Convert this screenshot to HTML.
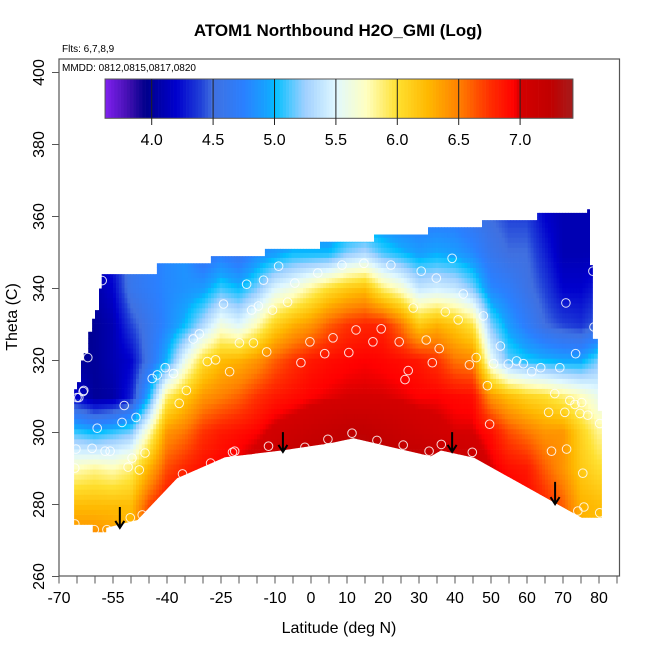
<!DOCTYPE html>
<html><head><meta charset="utf-8"><style>
html,body{margin:0;padding:0;background:#fff;}
svg{display:block;font-family:"Liberation Sans",Arial,sans-serif;}
</style></head><body>
<svg id="chart" width="650" height="650" viewBox="0 0 650 650" xmlns="http://www.w3.org/2000/svg">
<rect width="650" height="650" fill="#fff"/>
<text x="338" y="36" text-anchor="middle" font-size="17" font-weight="bold">ATOM1 Northbound H2O_GMI (Log)</text>
<text x="62" y="52" font-size="10">Flts: 6,7,8,9</text>
<text x="62" y="71" font-size="10">MMDD: 0812,0815,0817,0820</text>
<defs><clipPath id="regionClip"><polygon id="regionPoly" points=""/></clipPath></defs>
<g id="heat" clip-path="url(#regionClip)"></g>
<g id="points"></g>
<g id="arrows"></g>
<g id="cbar"></g>
<rect x="59" y="59" width="560.5" height="517" fill="none" stroke="#555" stroke-width="1.2"/>
<g id="axes"></g>
<text x="339" y="633" text-anchor="middle" font-size="16">Latitude (deg N)</text>
<text x="0" y="0" transform="translate(17,317) rotate(-90)" text-anchor="middle" font-size="16">Theta (C)</text>
</svg>
<script>
// ---- data ----
const gridLats = [-70,-65,-60,-55,-50,-45,-40,-35,-30,-25,-20,-15,-10,-5,0,5,10,15,20,25,30,35,40,45,50,55,60,65,70,75,80];
const gridThetas = [270,280,290,300,310,320,330,340,350,360];
const gridValues = [
[6.48,6.22,5.76,5.1,4.3,3.8,3.7,3.7,3.7,3.7],
[6.48,6.22,5.76,5.1,4.2,4.0,3.9,3.8,3.8,3.8],
[6.48,6.22,5.83,5.0,4.0,4.0,4.0,4.05,4.1,4.1],
[6.41,6.22,5.76,5.1,4.05,4.1,4.1,4.2,4.3,4.3],
[6.28,6.22,5.89,5.2,4.3,4.2,4.4,4.6,4.6,4.6],
[6.8,6.67,6.28,5.76,5.0,4.6,4.6,4.7,4.7,4.7],
[6.95,6.9,6.67,6.41,5.89,5.0,4.8,4.8,4.8,4.8],
[7.0,6.95,6.8,6.54,6.15,5.57,5.0,4.85,4.85,4.85],
[7.1,7.05,6.9,6.75,6.4,6.02,5.3,4.9,4.6,4.6],
[7.2,7.15,6.95,6.85,6.5,6.22,5.63,5.1,4.7,4.6],
[7.25,7.2,7.0,6.9,6.6,6.28,5.5,5.0,4.6,4.6],
[7.3,7.25,7.1,6.95,6.75,6.41,5.76,5.2,4.8,4.7],
[7.35,7.3,7.2,7.05,6.85,6.61,6.09,5.5,4.9,4.7],
[7.35,7.35,7.25,7.1,6.9,6.75,6.28,5.63,5.0,4.7],
[7.35,7.35,7.3,7.15,6.95,6.85,6.41,5.83,5.0,4.7],
[7.35,7.35,7.3,7.2,6.98,6.9,6.61,6.02,5.0,4.7],
[7.35,7.35,7.35,7.25,7.0,6.93,6.74,6.15,5.2,4.8],
[7.35,7.35,7.35,7.25,7.0,6.95,6.8,6.22,5.3,4.8],
[7.35,7.35,7.35,7.2,7.0,6.93,6.8,5.89,5.1,4.8],
[7.35,7.35,7.3,7.15,6.98,6.9,6.54,5.7,5.0,4.7],
[7.35,7.35,7.3,7.1,6.95,6.85,6.15,5.4,4.9,4.7],
[7.35,7.35,7.25,7.05,6.95,6.75,6.28,5.45,4.95,4.7],
[7.3,7.3,7.2,7.0,6.92,6.54,6.15,5.4,4.9,4.7],
[7.25,7.25,7.15,7.0,6.9,6.48,5.96,5.2,4.8,4.6],
[7.2,7.15,7.0,6.9,6.41,5.57,5.2,4.8,4.6,4.5],
[7.1,7.0,6.9,6.67,6.22,5.15,4.9,4.7,4.5,4.4],
[7.05,6.95,6.85,6.54,6.09,5.05,4.7,4.55,4.5,4.4],
[6.93,6.8,6.61,6.41,6.02,5.0,4.5,4.4,4.3,4.2],
[6.67,6.61,6.41,6.41,5.89,4.95,4.4,4.2,4.1,4.1],
[6.28,6.28,6.15,6.09,5.76,4.95,4.35,4.2,4.1,4.1],
[6.22,6.22,6.02,5.83,5.57,5.2,4.5,4.3,4.1,4.1]
];
const bottomLats = [-65.8,-60.6,-60.6,-56.9,-56.9,-48.2,-37.2,-23.9,-8.2,5.3,11.8,33.3,36.1,45.3,75.2,80.8];
const bottomThetas = [274.4,274.4,272.3,272.3,273.5,275.7,287.3,293.1,295,297,298.4,293.4,295,293,276.3,276.3];
const topLats = [-65.8,-65,-63.9,-63.1,-61.9,-60.8,-60,-58.9,-58.1,-42.8,-27.8,-12.8,2.5,17.5,32.5,47.5,62.8,76.7,77.5,78.3,79.7];
const topThetas = [312,314,320,322,328,331.6,334,340,344,347,349,351,353,355,357,359,361,362,346.5,326,306];
const topEndLat = 80.8;
const ptLats = [-58.0,-62.0,-63.3,-63.1,-64.5,-65.0,-51.9,-48.6,-52.5,-59.4,-65.3,-60.8,-57.2,-55.8,-49.7,-46.1,-50.8,-47.7,-65.6,-35.7,-27.9,-21.8,-21.2,-11.8,-1.7,4.7,-50.2,-46.9,-60.2,-56.7,-65.6,-36.6,-34.6,-44.1,-42.7,-40.5,-38.2,-32.7,-31,-28.8,-26.5,-22.6,-19.9,-16,-12.3,-24.3,-16.5,-14.6,-10.7,-6.5,-17.9,-13.2,-4.5,1.9,-9,-0.3,3.8,-2.8,6.1,8.6,14.7,22.2,30.6,34.8,39.2,42.3,28.4,37.3,40.9,47.9,12.5,19.5,17.2,24.5,32,35.6,10.5,33.7,44,45.9,50.7,27,26.1,52.6,54.8,57.1,59,61.3,63.8,69.1,73.5,70.8,78.3,78.6,49,67.7,71.9,73.3,75.2,76.9,74.7,70.5,66,80.2,49.6,66.8,71,11.4,18.3,25.6,32.8,36.2,44.8,75.5,74.1,75.8,80.2];
const ptThetas = [342.2,320.8,311.4,311.7,309.7,309.7,307.5,304.2,302.8,301.2,295.4,295.6,294.8,294.8,292.9,294.3,290.4,289.6,290.1,288.5,291.5,294.5,294.8,296.2,295.9,298.1,276.3,277.1,273,273,274.6,308.1,311.7,315,316,318,316.4,326,327.4,319.7,320.2,316.9,324.9,324.9,322.4,335.7,334,335.1,334,336.2,341.2,342.3,341.5,344.3,346.2,325.2,321.9,319.4,326.3,346.5,347,346.5,344.8,342.9,348.4,338.5,334.6,333.5,331.3,332.4,328.5,328.8,325.2,325.2,325.7,323.3,322.2,319.4,318.8,320.8,319.1,317.2,314.7,324,319,319.9,319.1,316.9,318,318,321.9,336,344.8,329.3,313,310.8,308.9,307.8,308.3,304.8,305.3,305.6,305.6,302.5,302.3,294.8,295.4,299.8,297.8,296.5,294.8,296.7,294.5,288.7,278.2,279.3,277.7];
const arrowLats = [-53.1,-7.8,39.2,67.8];
const arrowTails = [279.3,300.1,300.1,286.3];
const arrowHeads = [273.5,294.6,294.6,280.1];
const yTicks = [260,280,300,320,340,360,380,400];
const xTickLabels = [-70,-55,-40,-25,-10,0,10,20,30,40,50,60,70,80];
const cbTicks = [4.0,4.5,5.0,5.5,6.0,6.5,7.0];
const cbMin = 3.62, cbMax = 7.43;

// ---- scales ----
const X = lat => 59 + (lat + 70) * 3.6;
const Y = th => 576.5 - (th - 260) * 3.6;
const CB = v => 151.7 + (v - 4) * 122.8;
const NS = "http://www.w3.org/2000/svg";
function mk(tag, attrs, parent){const e=document.createElementNS(NS,tag);for(const k in attrs)e.setAttribute(k,attrs[k]);parent.appendChild(e);return e;}

const stops = [[3.62,[128,32,240]],[3.8,[70,16,180]],[3.95,[0,0,139]],[4.2,[0,0,205]],[4.4,[32,64,216]],[4.5,[64,112,224]],[4.75,[42,128,255]],[4.95,[20,165,255]],[5.0,[0,191,255]],[5.25,[160,208,255]],[5.5,[224,248,255]],[5.75,[255,255,192]],[6.0,[255,224,48]],[6.25,[255,184,0]],[6.5,[255,128,0]],[6.75,[255,48,0]],[6.95,[255,0,0]],[7.0,[212,0,0]],[7.25,[192,0,0]],[7.43,[165,28,28]]];
function cmap(v){
  if(v<=stops[0][0]) return `rgb(${stops[0][1]})`;
  for(let i=1;i<stops.length;i++){ if(v<=stops[i][0]){const a=stops[i-1],b=stops[i];const t=(v-a[0])/(b[0]-a[0]);const c=a[1].map((x,j)=>Math.round(x+(b[1][j]-x)*t));return `rgb(${c})`;}}
  return `rgb(${stops[stops.length-1][1]})`;
}
function field(lat,th){
  let i=0; while(i<gridLats.length-2 && lat>gridLats[i+1]) i++;
  let j=0; while(j<gridThetas.length-2 && th>gridThetas[j+1]) j++;
  let tx=(lat-gridLats[i])/(gridLats[i+1]-gridLats[i]); tx=Math.max(0,Math.min(1,tx));
  let ty=(th-gridThetas[j])/(gridThetas[j+1]-gridThetas[j]); ty=Math.max(0,Math.min(1,ty));
  const v00=gridValues[i][j],v01=gridValues[i][j+1],v10=gridValues[i+1][j],v11=gridValues[i+1][j+1];
  return (v00*(1-tx)+v10*tx)*(1-ty)+(v01*(1-tx)+v11*tx)*ty;
}

// region polygon
(function(){
  const pts=[];
  for(let i=0;i<bottomLats.length;i++) pts.push([X(bottomLats[i]),Y(bottomThetas[i])]);
  const tops=[];
  for(let i=0;i<topLats.length;i++){const e=i+1<topLats.length?topLats[i+1]:topEndLat;tops.push([X(topLats[i]),Y(topThetas[i])]);tops.push([X(e),Y(topThetas[i])]);}
  tops.reverse().forEach(p=>pts.push(p));
  document.getElementById('regionPoly').setAttribute('points',pts.map(p=>p[0].toFixed(1)+','+p[1].toFixed(1)).join(' '));
})();

// heatmap cells
(function(){
  const g=document.getElementById('heat');
  const dl=0.8, dt=1.4;
  for(let lat=-66.2; lat<81; lat+=dl){
    for(let th=271.6; th<363; th+=dt){
      const r=mk('rect',{x:X(lat).toFixed(1),y:Y(th+dt).toFixed(1),width:(dl*3.6+0.4).toFixed(1),height:(dt*3.6+0.4).toFixed(1),fill:cmap(field(lat+dl/2,th+dt/2))},g);
      
      
    }
  }
})();

// points
(function(){
  const g=document.getElementById('points');
  for(let i=0;i<ptLats.length;i++){
    const c=mk('circle',{cx:X(ptLats[i]).toFixed(1),cy:Y(ptThetas[i]).toFixed(1),r:4.3,fill:'none',stroke:'#fff','stroke-opacity':0.85,'stroke-width':1},g);
    
    
  }
})();

// arrows
(function(){
  const g=document.getElementById('arrows');
  for(let i=0;i<arrowLats.length;i++){
    const x=X(arrowLats[i]), y1=Y(arrowTails[i]), y2=Y(arrowHeads[i]);
    const p=mk('path',{d:`M${x},${y1} L${x},${y2} M${x-4.5},${y2-7} L${x},${y2} L${x+4.5},${y2-7}`,stroke:'#000','stroke-width':2,fill:'none'},g);
    
    
  }
})();

// colorbar
(function(){
  const g=document.getElementById('cbar');
  const n=150, w=(CB(cbMax)-CB(cbMin))/n;
  for(let k=0;k<n;k++){
    const v=cbMin+(cbMax-cbMin)*(k+0.5)/n;
    const r=mk('rect',{x:(CB(cbMin)+k*w).toFixed(2),y:79,width:(w+0.3).toFixed(2),height:39.3,fill:cmap(v)},g);
    
    
  }
  const b=mk('rect',{x:CB(cbMin),y:79,width:CB(cbMax)-CB(cbMin),height:39.3,fill:'none',stroke:'#555','stroke-width':1},g);
  
  
  cbTicks.forEach(v=>{
    const l=mk('line',{x1:CB(v),x2:CB(v),y1:79,y2:125,stroke:'#222','stroke-width':1},g);
    
    
    const t=mk('text',{x:CB(v),y:145,'text-anchor':'middle','font-size':16},g);
    t.textContent=v.toFixed(1);
    
    
  });
})();

// axes
(function(){
  const g=document.getElementById('axes');
  yTicks.forEach(v=>{
    const l=mk('line',{x1:52,x2:59,y1:Y(v),y2:Y(v),stroke:'#555','stroke-width':1},g);
    
    
    const t=mk('text',{x:0,y:0,transform:`translate(44,${Y(v)}) rotate(-90)`,'text-anchor':'middle','font-size':16},g);
    t.textContent=String(v);
    
    
  });
  for(let v=-70; v<=85; v+=5){
    const l=mk('line',{x1:X(v),x2:X(v),y1:576.5,y2:583.5,stroke:'#555','stroke-width':1},g);
    
    
  }
  xTickLabels.forEach(v=>{
    const t=mk('text',{x:X(v),y:603,'text-anchor':'middle','font-size':16},g);
    t.textContent=String(v);
    
    
  });
})();
</script>
</body></html>
